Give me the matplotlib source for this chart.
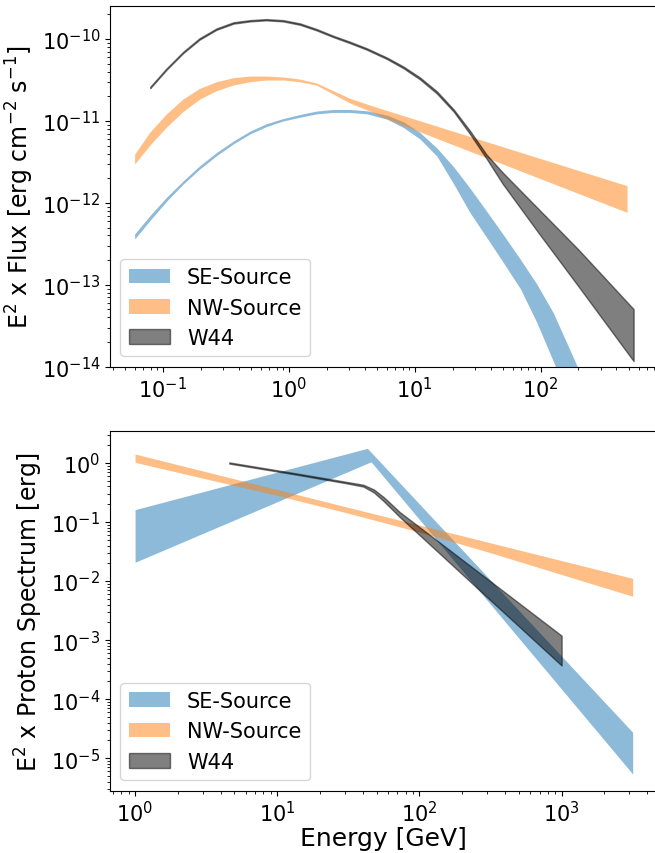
import matplotlib
matplotlib.use("Agg")
import matplotlib.pyplot as plt

# --- DATOS PANEL SUPERIOR: E^2 x Flujo gamma [erg cm^-2 s^-1] vs energia [GeV] ---
e_top = [0.0596, 0.0794, 0.107, 0.145, 0.195, 0.266, 0.363, 0.490, 0.661, 0.902,
         1.23, 1.66, 2.24, 3.05, 4.17, 6.03, 8.13, 11.0, 15.0, 20.4,
         27.5, 37.2, 50.1, 69.2, 93.3, 126, 174, 234]
se_flux_hi = [4.17e-13, 7.08e-13, 1.175e-12, 1.86e-12, 2.82e-12, 4.12e-12, 5.69e-12, 7.50e-12, 9.23e-12, 1.07e-11,
              1.20e-11, 1.32e-11, 1.38e-11, 1.38e-11, 1.33e-11, 1.175e-11, 9.77e-12, 7.24e-12, 4.68e-12, 2.75e-12,
              1.51e-12, 7.94e-13, 4.17e-13, 2.04e-13, 1.02e-13, 4.57e-14, 1.51e-14, 5.37e-15]
se_flux_lo = [3.63e-13, 6.17e-13, 1.05e-12, 1.70e-12, 2.57e-12, 3.76e-12, 5.25e-12, 6.92e-12, 8.51e-12, 1.00e-11,
              1.11e-11, 1.22e-11, 1.27e-11, 1.27e-11, 1.22e-11, 1.05e-11, 8.32e-12, 6.03e-12, 3.72e-12, 1.70e-12,
              7.59e-13, 3.80e-13, 1.91e-13, 8.91e-14, 3.47e-14, 1.17e-14, 3.55e-15, 1.12e-15]

e_nw_top = [0.0596, 0.0783, 0.106, 0.144, 0.196, 0.266, 0.361, 0.490, 0.664, 0.902,
            1.22, 1.66, 2.25, 3.05, 4.15, 6.03, 10.0, 31.6, 100, 486]
nw_flux_hi = [3.94e-12, 7.24e-12, 1.21e-11, 1.85e-11, 2.50e-11, 3.01e-11, 3.37e-11, 3.53e-11, 3.53e-11, 3.44e-11,
              3.25e-11, 2.90e-11, 2.34e-11, 1.89e-11, 1.61e-11, 1.34e-11, 1.05e-11, 6.04e-12, 3.47e-12, 1.62e-12]
nw_flux_lo = [2.98e-12, 5.01e-12, 8.34e-12, 1.30e-11, 1.85e-11, 2.34e-11, 2.74e-11, 3.01e-11, 3.16e-11, 3.16e-11,
              3.01e-11, 2.74e-11, 2.13e-11, 1.66e-11, 1.37e-11, 1.06e-11, 7.80e-12, 3.92e-12, 1.97e-12, 7.66e-13]

e_w44_top = [0.0794, 0.107, 0.145, 0.195, 0.266, 0.363, 0.490, 0.661, 0.902, 1.23,
             1.66, 2.24, 3.05, 4.17, 6.03, 8.13, 11.0, 15.0, 20.4, 27.5,
             37.2, 50.1, 100, 200, 548]
w44_flux_hi = [2.62e-11, 4.39e-11, 7.00e-11, 1.02e-10, 1.345e-10, 1.60e-10, 1.70e-10, 1.75e-10, 1.70e-10, 1.55e-10,
               1.325e-10, 1.10e-10, 9.28e-11, 7.70e-11, 5.93e-11, 4.62e-11, 3.40e-11, 2.30e-11, 1.38e-11, 7.59e-12,
               3.89e-12, 2.34e-12, 7.94e-13, 2.69e-13, 5.05e-14]
w44_flux_lo = [2.52e-11, 4.23e-11, 6.74e-11, 0.98e-10, 1.295e-10, 1.54e-10, 1.64e-10, 1.69e-10, 1.64e-10, 1.49e-10,
               1.275e-10, 1.06e-10, 8.92e-11, 7.40e-11, 5.69e-11, 4.40e-11, 3.22e-11, 2.16e-11, 1.30e-11, 6.92e-12,
               3.47e-12, 1.70e-12, 3.98e-13, 9.55e-14, 1.17e-14]

# --- DATOS PANEL INFERIOR: E^2 x espectro de protones [erg] vs energia [GeV] ---
e_se_p = [1.0, 43.0, 45.7, 3160]
se_p_hi = [0.162, 1.77, 1.52, 2.75e-5]
se_p_lo = [0.0208, 0.984, 1.047, 5.4e-6]

e_nw_p = [1.0, 3.16, 10.0, 31.6, 100, 316, 1000, 3160]
nw_p_hi = [1.42, 0.710, 0.355, 0.177, 0.0887, 0.0444, 0.0222, 0.0111]
nw_p_lo = [1.026, 0.537, 0.282, 0.141, 0.0676, 0.0302, 0.0129, 0.00553]

e_w44_p = [4.6, 13.7, 31.6, 40.4, 47.9, 56.2, 73.1, 100, 316, 1000]
w44_p_hi = [1.023, 0.664, 0.473, 0.427, 0.355, 0.263, 0.146, 0.0822, 0.00991, 0.00119]
w44_p_lo = [0.977, 0.634, 0.447, 0.398, 0.316, 0.224, 0.120, 0.0603, 0.00472, 0.000371]

labels = ["SE-Source", "NW-Source", "W44"]

# ticks mayores visibles (solo dentro de los limites)
xt_top = [1e-1, 1e0, 1e1, 1e2]
yt_top = [1e-14, 1e-13, 1e-12, 1e-11, 1e-10]
xt_bot = [1e0, 1e1, 1e2, 1e3]
yt_bot = [1e-5, 1e-4, 1e-3, 1e-2, 1e-1, 1e0]

# --- FIGURA ---
fig = plt.figure(figsize=(6.55, 8.54), dpi=100)
ax1 = fig.add_axes([0.168, 0.5694, 0.838, 0.4221])
ax2 = fig.add_axes([0.168, 0.0730, 0.836, 0.4208])

# Panel superior (bandas de flujo)
ax1.fill_between(e_top, se_flux_lo, se_flux_hi, color="C0", alpha=0.5, lw=0, label=labels[0])
ax1.fill_between(e_nw_top, nw_flux_lo, nw_flux_hi, color="C1", alpha=0.5, lw=0, label=labels[1])
ax1.fill_between(e_w44_top, w44_flux_lo, w44_flux_hi, color="k", alpha=0.5, label=labels[2])
ax1.set_xscale("log")
ax1.set_yscale("log")
ax1.set_xticks(xt_top)
ax1.set_yticks(yt_top)
ax1.set_xlim(0.038, 871)
ax1.set_ylim(1e-14, 2.51e-10)
ax1.set_ylabel(r"E$^2$ x Flux [erg cm$^{-2}$ s$^{-1}$]", fontsize=17)
ax1.legend(loc="lower left", fontsize=15)

# Panel inferior (espectro de protones)
ax2.fill_between(e_se_p, se_p_lo, se_p_hi, color="C0", alpha=0.5, lw=0, label=labels[0])
ax2.fill_between(e_nw_p, nw_p_lo, nw_p_hi, color="C1", alpha=0.5, lw=0, label=labels[1])
ax2.fill_between(e_w44_p, w44_p_lo, w44_p_hi, color="k", alpha=0.5, label=labels[2])
ax2.set_xscale("log")
ax2.set_yscale("log")
ax2.set_xticks(xt_bot)
ax2.set_yticks(yt_bot)
ax2.set_xlim(0.667, 4732)
ax2.set_ylim(2.82e-6, 3.44)
ax2.set_xlabel("Energy [GeV]", fontsize=18, labelpad=0)
ax2.set_ylabel(r"E$^2$ x Proton Spectrum [erg]", fontsize=17)
ax2.legend(loc="lower left", fontsize=15)

for ax in (ax1, ax2):
    ax.tick_params(axis="both", which="major", labelsize=15)

fig.savefig("out.png", dpi=100)
